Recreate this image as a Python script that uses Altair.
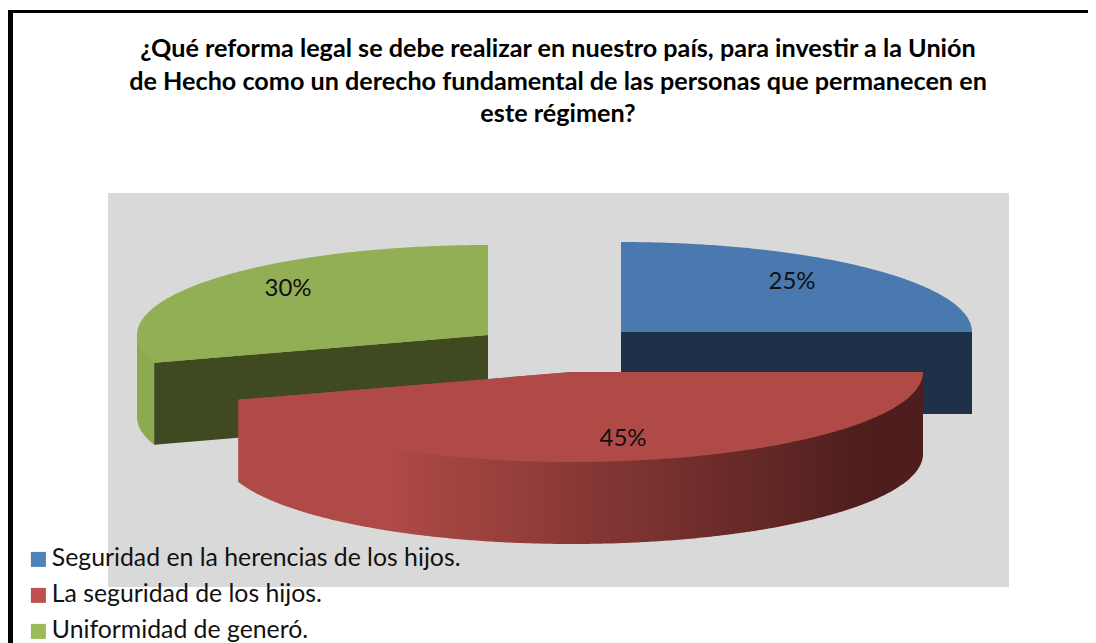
import numpy as np
import pandas as pd
import altair as alt

title_lines = [
    "¿Qué reforma legal se debe realizar en nuestro país, para investir a la Unión",
    "de Hecho como un derecho fundamental de las personas que permanecen en",
    "este régimen?",
]
categories = ["Seguridad en la herencias de los hijos.", "La seguridad de los hijos.", "Uniformidad de generó."]
shares = [25, 45, 30]
legend_colors = ["#4F81BD", "#C0504D", "#9BBB59"]
top_colors = ["#4A79B0", "#AF4A46", "#93AF56"]
wall_colors = ["#1E3149", "#4D1E1D", "#404A20"]

# pie geometry, in picture pixels
centers = [(621, 332), (572, 372), (488, 335)]
RX, RY, DEPTH = 351, 90, 82
label_pos = [(792, 282), (623, 439), (288, 289)]

X = alt.X("x:Q", scale=alt.Scale(domain=[8, 1088], nice=False, zero=False), axis=None)
Y = alt.Y("y:Q", scale=alt.Scale(domain=[8, 643], reverse=True, nice=False, zero=False), axis=None)


def arc(c, a0, a1, dz=0):
    t = np.radians(np.linspace(a0, a1, max(int(abs(a1 - a0) * 2), 2)))
    return list(zip(c[0] + RX * np.cos(t), c[1] + RY * np.sin(t) + dz))


def poly(points, fill):
    df = pd.DataFrame(points, columns=["x", "y"])
    df["i"] = range(len(df))
    return alt.Chart(df).mark_line(fill=fill, stroke=None, strokeWidth=0, clip=False).encode(
        x=X, y=Y, order="i:Q"
    )


def rect(x0, x1, y0, y1, color):
    df = pd.DataFrame({"x": [x0], "x2": [x1], "y": [y0], "y2": [y1]})
    return alt.Chart(df).mark_rect(color=color).encode(x=X, x2="x2:Q", y=Y, y2="y2:Q")


# slice angles clockwise from the top of the pie, expressed from 3 o'clock
start = [-90 + sum(shares[:i]) * 3.6 for i in range(3)]
end = [-90 + sum(shares[: i + 1]) * 3.6 for i in range(3)]

layers = [rect(108, 1009, 193, 587, "#D9D9D9")]

# blue
c = centers[0]
layers.append(poly([c, (c[0] + RX, c[1]), (c[0] + RX, c[1] + DEPTH), (c[0], c[1] + DEPTH)], wall_colors[0]))
layers.append(poly([c] + arc(c, start[0], end[0]), top_colors[0]))

# green
c = centers[2]
a0, a1 = start[2], end[2]
p0 = arc(c, a0, a0)[0]
layers.append(poly([c, (c[0] - RX, c[1])] + arc(c, 180, a0, DEPTH) + [p0], "#8CAA4F"))
layers.append(poly([c, p0, (p0[0], p0[1] + DEPTH), (c[0], c[1] + DEPTH)], wall_colors[2]))
layers.append(poly([c] + arc(c, a0, a1), top_colors[2]))

# red
c = centers[1]
a0, a1 = start[1], end[1]
p0 = arc(c, a0, a0)[0]
p1 = arc(c, a1, a1)[0]
red_side = alt.Gradient(
    gradient="linear", x1=0, x2=1, y1=0, y2=0,
    stops=[
        alt.GradientStop(offset=0.0, color=top_colors[1]),
        alt.GradientStop(offset=0.22, color=top_colors[1]),
        alt.GradientStop(offset=0.92, color=wall_colors[1]),
        alt.GradientStop(offset=1.0, color=wall_colors[1]),
    ],
)
layers.append(poly([c, p0] + arc(c, a0, a1, DEPTH) + [p1], red_side))
layers.append(poly([c] + arc(c, a0, a1), top_colors[1]))

# data labels
lab = pd.DataFrame({"x": [p[0] for p in label_pos], "y": [p[1] for p in label_pos],
                    "t": [f"{s}%" for s in shares]})
layers.append(alt.Chart(lab).mark_text(font="Lato", fontSize=24, color="#111111").encode(x=X, y=Y, text="t:N"))

# title
tl = pd.DataFrame({"x": [558, 558, 558], "y": [49, 82, 114], "t": title_lines})
layers.append(alt.Chart(tl).mark_text(font="Lato", fontWeight="bold", fontSize=25.2, color="#000000").encode(x=X, y=Y, text="t:N"))

# legend
leg = pd.DataFrame({"x": [60, 60, 60], "y": [600, 600, 600], "cat": categories})
layers.append(
    alt.Chart(leg).mark_square(opacity=0, size=225).encode(
        x=X, y=Y,
        color=alt.Color(
            "cat:N",
            scale=alt.Scale(domain=categories, range=legend_colors),
            legend=alt.Legend(
                orient="none", legendX=18, legendY=539, title=None, symbolType="square",
                symbolSize=225, symbolOpacity=1, symbolStrokeWidth=0,
                labelFont="Lato", labelFontSize=24.8, labelColor="#111111",
                labelLimit=600, rowPadding=10, labelOffset=1,
            ),
        ),
    )
)

# frame
layers.append(rect(8, 13, 10, 643, "#000000"))
layers.append(rect(8, 1088, 10, 13, "#000000"))

chart = alt.layer(*layers).properties(
    width=1080, height=635, padding=0, background="#FFFFFF",
    autosize=alt.AutoSizeParams(type="none"),
).configure_view(stroke=None)

chart.save("out.html", embed_options={"renderer": "svg", "actions": False})
